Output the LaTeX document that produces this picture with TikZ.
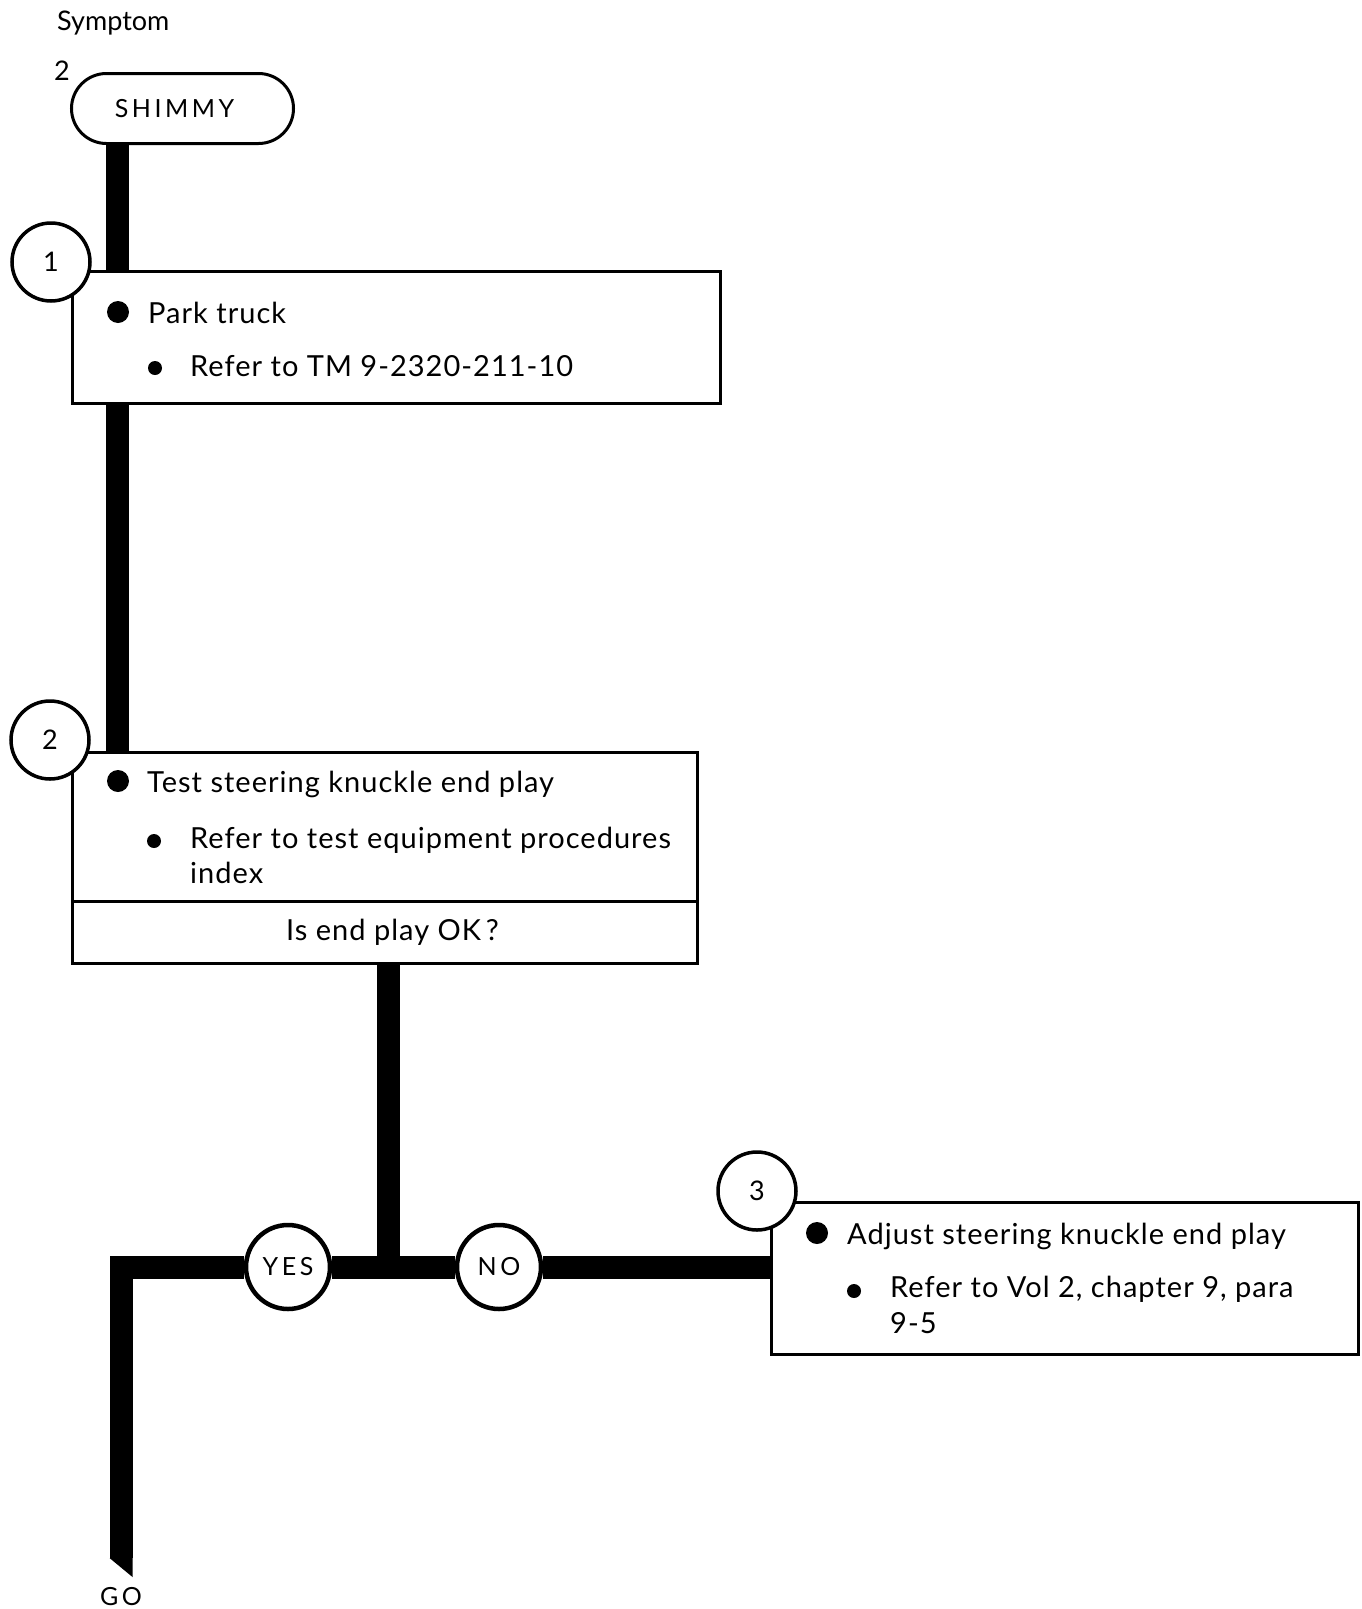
\documentclass[tikz,border=0pt]{standalone}
\usepackage{fontspec}
\setmainfont{Lato}
\newfontfamily\capsfont[LetterSpace=14]{Lato}
\newfontfamily\stepfont[LetterSpace=3.5]{Lato}
\usetikzlibrary{positioning,calc,shapes.misc}

\tikzset{
  stepbox/.style={draw, rectangle, line width=3pt, inner sep=0pt, outer sep=0pt},
  stepnum/.style={draw, circle, line width=3.5pt, fill=white, minimum size=78pt, inner sep=0pt, font=\fontsize{27}{30}\selectfont},
  answer/.style={draw, circle, line width=4.5pt, fill=white, minimum size=84pt, inner sep=0pt, font=\capsfont\fontsize{25}{30}\selectfont},
  symptom/.style={draw, rounded rectangle, line width=3pt, minimum width=222pt, minimum height=70pt, inner sep=0pt, font=\capsfont\fontsize{25}{30}\selectfont},
  steptext/.style={anchor=base west, inner sep=0pt, font=\stepfont\fontsize{29}{36}\selectfont},
  bigdot/.style={circle, fill=black, minimum size=22pt, inner sep=0pt},
  smalldot/.style={circle, fill=black, minimum size=14pt, inner sep=0pt},
  flow/.style={line width=23pt, line join=miter},
}

\begin{document}
\begin{tikzpicture}[x=1pt,y=-1pt]
  \useasboundingbox (0,0) rectangle (1361,1609);

  % symptom heading
  \node[anchor=base west, inner sep=0pt, font=\fontsize{27}{32}\selectfont] (symlabel) at (57,30) {Symptom};
  \node[anchor=base west, inner sep=0pt, font=\fontsize{27}{32}\selectfont] (symnum) at (54,80) {2};
  \node[symptom] (shimmy) at (182.5,108.5) {\hspace*{-16pt}SHIMMY};

  % step boxes
  \node[stepbox, minimum width=648pt, minimum height=132pt, anchor=north west] (box1) at (72,271) {};
  \node[stepbox, minimum width=625pt, minimum height=149pt, anchor=north west] (box2) at (72,752) {};
  \node[stepbox, minimum width=625pt, minimum height=62pt, below=0pt of box2, font=\stepfont\fontsize{29}{36}\selectfont] (ask2) {\hspace*{16pt}Is end play OK\thinspace?};
  \node[stepbox, minimum width=587pt, minimum height=152pt, anchor=north west] (box3) at (771,1202) {};

  % main line
  \coordinate (spine) at (117.5,0);
  \draw[flow] (spine |- shimmy.south) -- (spine |- box1.north);
  \draw[flow] (spine |- box1.south) -- (spine |- box2.north);

  % decision
  \coordinate (split) at (388,1267);
  \coordinate (turn) at (121,1267);
  \coordinate (goend) at (121,1558);
  \node[answer] (yes) at (288,1267) {YES};
  \node[answer] (no) at (499,1267) {NO};
  \draw[flow] (split |- ask2.south) -- (split);
  \draw[flow] (yes) -- (turn) -- (goend);
  \draw[flow] (yes) -- (no);
  \draw[flow] (no) -- (no -| box3.west);
  \fill ($(goend)+(-11.5,0)$) -- ($(goend)+(11.5,0)$) -- ($(goend)+(11.5,19)$) -- cycle;
  \node[anchor=base, inner sep=0pt, font=\capsfont\fontsize{25}{30}\selectfont] (go) at (121,1605) {GO};

  % step numbers
  \node[stepnum] (n1) at (51,262) {1};
  \node[stepnum] (n2) at (50,740) {2};
  \node[stepnum] (n3) at (757,1191) {3};

  % step 1
  \node[bigdot] (d1) at (118,312) {};
  \node[steptext] (t1) at (148,323) {Park truck};
  \node[smalldot] (s1) at (155,368) {};
  \node[steptext] (r1) at (190,376) {Refer to TM 9-2320-211-10};

  % step 2
  \node[bigdot] (d2) at (118,781) {};
  \node[steptext] (t2) at (147,792) {Test steering knuckle end play};
  \node[smalldot] (s2) at (154,841) {};
  \node[steptext] (r2) at (190,848) {Refer to test equipment procedures};
  \node[steptext] (r2b) at (190,883) {index};

  % step 3
  \node[bigdot] (d3) at (817,1233) {};
  \node[steptext] (t3) at (847,1244) {Adjust steering knuckle end play};
  \node[smalldot] (s3) at (854,1291) {};
  \node[steptext] (r3) at (890,1297) {Refer to Vol 2, chapter 9, para};
  \node[steptext] (r3b) at (890,1333) {9-5};
\end{tikzpicture}
\end{document}
